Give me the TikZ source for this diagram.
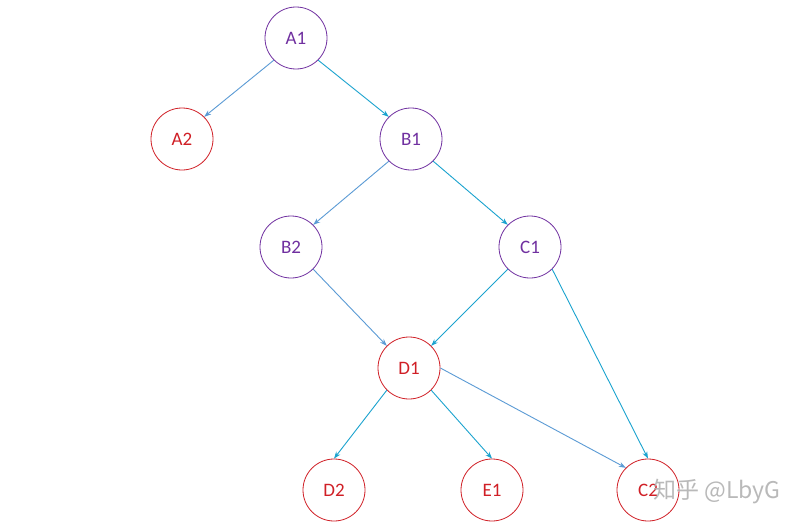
\documentclass[tikz,border=0pt]{standalone}
\usepackage{fontspec}
\setmainfont{Carlito}
\newfontfamily\cjk{Noto Sans CJK SC}
\usetikzlibrary{arrows.meta}
\definecolor{violet}{HTML}{7030A0}
\definecolor{crimson}{HTML}{D01F26}
\definecolor{steel}{HTML}{5B9BD5}
\definecolor{aqua}{HTML}{1AA3CF}
\tikzset{
  vnode/.style = {circle, draw=violet, text=violet, thick, minimum size=62pt,
                  inner sep=0pt, font=\fontsize{19}{20}\selectfont},
  rnode/.style = {circle, draw=crimson, text=crimson, thick, minimum size=62pt,
                  inner sep=0pt, font=\fontsize{19}{20}\selectfont},
  arrs/.style  = {-{Stealth[length=7pt,width=5pt]}, draw=steel, line width=0.9pt},
  arrc/.style  = {-{Stealth[length=7pt,width=5pt]}, draw=aqua, line width=0.9pt},
}
\begin{document}
\begin{tikzpicture}[x=1pt, y=-1pt]
  \useasboundingbox[fill=white] (0,0) rectangle (808,530);

  \node[vnode] (a1) at (296,38)  {A1};
  \node[rnode] (a2) at (182,139) {A2};
  \node[vnode] (b1) at (411,139) {B1};
  \node[vnode] (b2) at (291,247) {B2};
  \node[vnode] (c1) at (530,247) {C1};
  \node[rnode] (d1) at (409,368) {D1};
  \node[rnode] (d2) at (334,490) {D2};
  \node[rnode] (e1) at (492,490) {E1};
  \node[rnode] (c2) at (648,490) {C2};

  \draw[arrs] (a1.south west) -- (a2.north east);
  \draw[arrc] (a1.south east) -- (b1.north west);
  \draw[arrs] (b1.south west) -- (b2.north east);
  \draw[arrc] (b1.south east) -- (c1.north west);
  \draw[arrs] (b2.south east) -- (d1.north west);
  \draw[arrc] (c1.south west) -- (d1.north east);
  \draw[arrc] (c1.south east) -- (c2.north);
  \draw[arrc] (d1.south west) -- (d2.north);
  \draw[arrc] (d1.south east) -- (e1.north);
  \draw[arrs] (d1.east) -- (c2.north west);

  % watermark
  \node[anchor=west, text=gray!60, opacity=0.9, inner sep=0pt,
        font=\cjk\fontsize{23}{24}\selectfont] (wm) at (653,492) {知乎 @LbyG};
\end{tikzpicture}
\end{document}
